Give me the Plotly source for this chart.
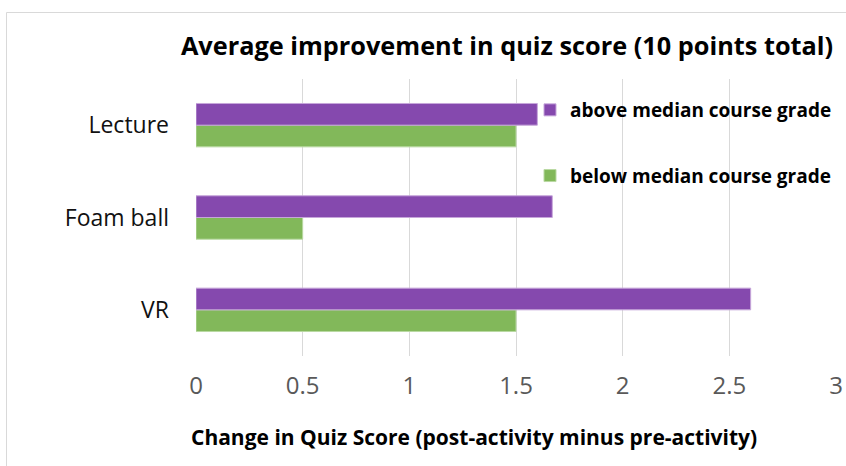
import plotly.graph_objects as go

categories = ["VR", "Foam ball", "Lecture"]
above_median = [2.6, 1.67, 1.6]
below_median = [1.5, 0.5, 1.5]
x_ticks = [0, 0.5, 1, 1.5, 2, 2.5, 3]
x_tick_labels = ["0", "0.5", "1", "1.5", "2", "2.5", "3"]

PURPLE = "#8549AE"
GREEN = "#82B85A"
FONT = "Open Sans"

W, H = 846, 466
L, T = 196, 79
pw, ph = 640, 277
R = W - L - pw
B = H - T - ph

def fx(page_x):
    return (page_x - L) / pw

def fy(page_y):
    return (H - B - page_y) / ph

fig = go.Figure()
fig.add_trace(go.Bar(
    y=categories, x=below_median, orientation="h",
    name="<b>below median course grade</b>",
    marker=dict(color=GREEN, line=dict(color="#B9D9A2", width=1)),
    legendgroup="b", legendrank=2,
))
fig.add_trace(go.Bar(
    y=categories, x=above_median, orientation="h",
    name="<b>above median course grade</b>",
    marker=dict(color=PURPLE, line=dict(color="#C6A6DA", width=1)),
    legendgroup="a", legendrank=1,
))

fig.update_layout(
    width=W, height=H,
    margin=dict(l=L, r=R, t=T, b=B, autoexpand=False),
    paper_bgcolor="white", plot_bgcolor="white",
    barmode="group", bargap=0.53, bargroupgap=0,
    font=dict(family=FONT, color="#000000"),
    title=dict(
        text="<b>Average improvement in quiz score (10 points total)</b>",
        x=fx(507), xanchor="center", xref="paper",
        y=1 - 46 / H, yanchor="middle",
        font=dict(family=FONT, size=25.3, color="#000000"),
    ),
    xaxis=dict(
        range=[0, 3], tickvals=x_ticks, ticktext=x_tick_labels,
        showgrid=True, gridcolor="#D9D9D9", gridwidth=1,
        zeroline=False, showline=False,
        tickfont=dict(family=FONT, size=24, color="#595959"),
        ticks="", ticklabelstandoff=13,
    ),
    yaxis=dict(
        showgrid=False, zeroline=False, showline=False, ticks="",
        tickfont=dict(family=FONT, size=23, color="#111111"),
        ticklabelstandoff=26,
        categoryorder="array", categoryarray=categories,
    ),
    legend=dict(
        x=fx(530), y=fy(91), xanchor="left", yanchor="top",
        traceorder="grouped", tracegroupgap=38,
        font=dict(family=FONT, size=19, color="#000000"),
        bgcolor="rgba(0,0,0,0)", itemwidth=30,
    ),
    annotations=[dict(
        text="<b>Change in Quiz Score (post-activity minus pre-activity)</b>",
        xref="paper", yref="paper", x=fx(473.5), y=fy(437),
        xanchor="center", yanchor="middle", showarrow=False,
        font=dict(family=FONT, size=21, color="#000000"),
    )],
    shapes=[dict(
        type="rect", xref="paper", yref="paper",
        x0=fx(6.5), x1=fx(880), y0=fy(500), y1=fy(12.5),
        line=dict(color="#D9D9D9", width=1), fillcolor="rgba(0,0,0,0)", layer="below",
    )],
)

fig.write_html(
    "out.html",
    config={"displayModeBar": False},
    post_script="document.body.style.margin='0';document.body.style.overflow='hidden';",
)
